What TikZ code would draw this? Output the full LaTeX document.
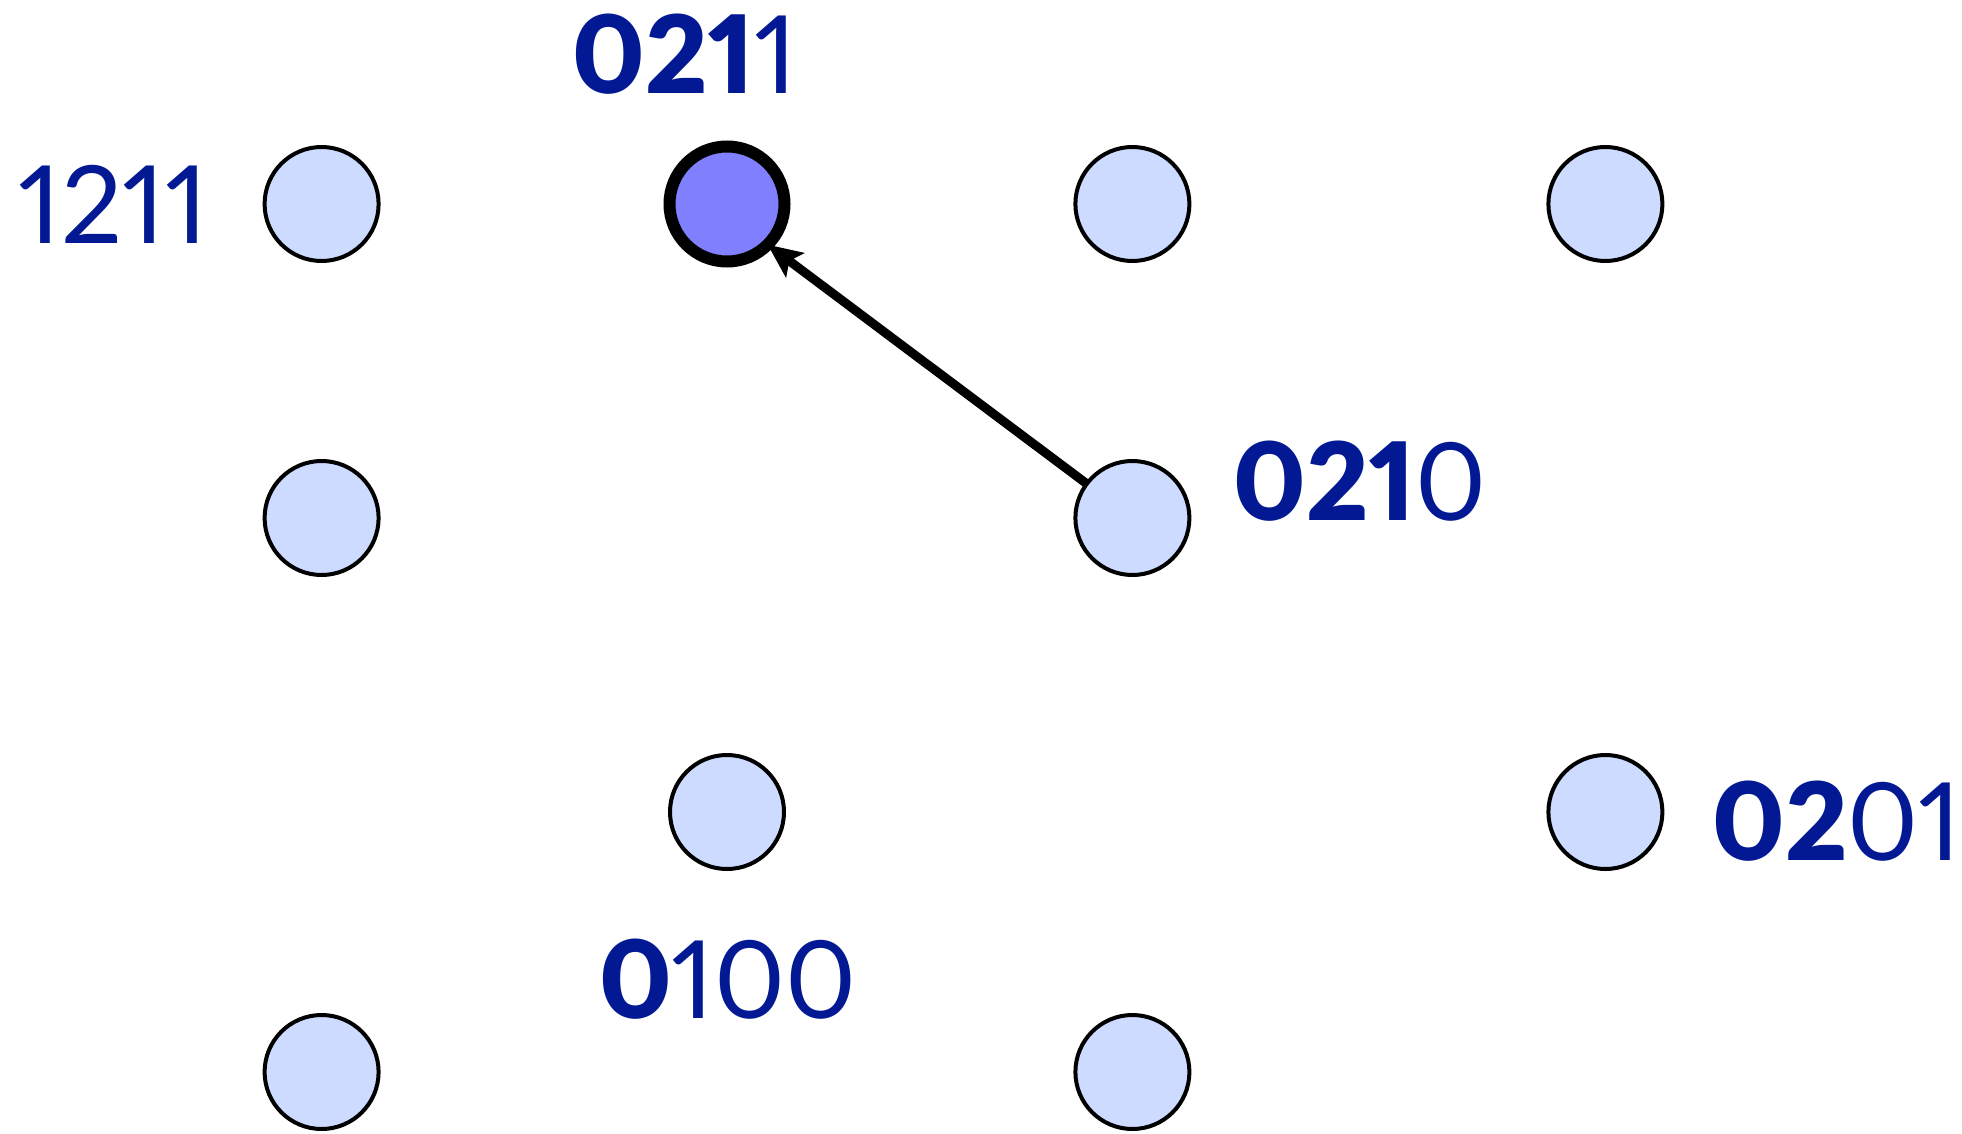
\documentclass[tikz,border=0pt]{standalone}
\usepackage{fontspec}
\setmainfont{Lato}[Numbers=Proportional,BoldFont={Lato Black}]
\usetikzlibrary{arrows.meta}
\definecolor{lbl}{RGB}{3,25,148}
\definecolor{nodefill}{RGB}{204,219,255}
\definecolor{hifill}{RGB}{128,128,255}
\tikzset{
  st/.style={circle,draw=black,line width=4pt,fill=nodefill,minimum size=114pt,inner sep=0pt,outer sep=0pt},
  sthi/.style={st,line width=12pt,fill=hifill,minimum size=115pt},
  lab/.style={text=lbl,inner sep=0pt,font=\fontsize{108}{110}\selectfont},
  conn/.style={line width=9pt,-{Stealth[length=34pt,width=30pt,inset=7pt]}}
}
\begin{document}
\begin{tikzpicture}[x=1pt,y=-1pt]
\useasboundingbox (0,0) rectangle (1962,1134);
\node[st] (a) at (321.6,204) {};
\node[sthi] (b) at (727,204) {};
\node[st] (c) at (1132.4,204) {};
\node[st] (d) at (1605.4,204) {};
\node[st] (e) at (321.6,518) {};
\node[st] (f) at (1132.4,518) {};
\node[st] (g) at (727,812) {};
\node[st] (h) at (1605.4,812) {};
\node[st] (i) at (321.6,1072) {};
\node[st] (j) at (1132.4,1072) {};
\draw[conn] (f) -- (b.south east);
\node[lab] (l1) at (685,54) {\textbf{021}1};
\node[lab] (l2) at (113,204) {1211};
\node[lab] (l3) at (1360,481) {\textbf{021}0};
\node[lab] (l4) at (1837,821) {\textbf{02}01};
\node[lab] (l5) at (728,979) {\textbf{0}100};
\end{tikzpicture}
\end{document}
